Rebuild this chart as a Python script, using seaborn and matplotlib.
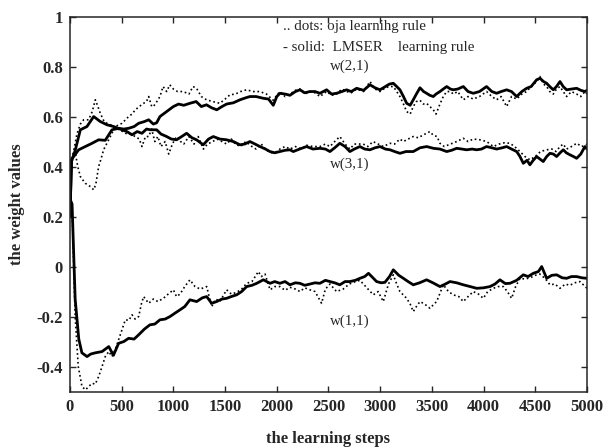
import numpy as np
import pandas as pd
import matplotlib
matplotlib.use("Agg")
import matplotlib.pyplot as plt
import seaborn as sns

# ---------------- data ----------------
w11_lmser_steps = [0, 20, 50, 85, 115, 165, 200, 245, 310, 375, 420, 470, 520, 567, 620, 664, 720, 773, 820, 870, 920, 967, 1020, 1064, 1110, 1160, 1225, 1280, 1322, 1370, 1418, 1470, 1515, 1560, 1612, 1660, 1709, 1760, 1806, 1870, 1935, 1980, 2030, 2080, 2127, 2180, 2224, 2270, 2320, 2370, 2417, 2470, 2514, 2560, 2610, 2660, 2707, 2760, 2804, 2850, 2887, 2930, 2965, 3010, 3046, 3090, 3127, 3180, 3224, 3270, 3320, 3380, 3449, 3510, 3578, 3630, 3675, 3740, 3804, 3870, 3933, 4000, 4062, 4110, 4158, 4210, 4255, 4320, 4384, 4430, 4481, 4530, 4562, 4610, 4660, 4707, 4760, 4803, 4850, 4900, 4950, 5000]
w11_lmser_vals = [0.27, 0.25, -0.13, -0.29, -0.345, -0.36, -0.35, -0.345, -0.34, -0.32, -0.355, -0.307, -0.30, -0.287, -0.29, -0.273, -0.25, -0.233, -0.23, -0.213, -0.21, -0.20, -0.185, -0.173, -0.16, -0.133, -0.14, -0.125, -0.12, -0.147, -0.14, -0.13, -0.127, -0.12, -0.113, -0.10, -0.08, -0.075, -0.067, -0.053, -0.067, -0.06, -0.067, -0.06, -0.073, -0.065, -0.067, -0.075, -0.07, -0.065, -0.067, -0.055, -0.06, -0.065, -0.073, -0.06, -0.06, -0.055, -0.047, -0.04, -0.027, -0.045, -0.06, -0.065, -0.063, -0.04, -0.013, -0.035, -0.047, -0.06, -0.073, -0.065, -0.053, -0.065, -0.08, -0.07, -0.06, -0.065, -0.073, -0.08, -0.087, -0.085, -0.08, -0.07, -0.053, -0.068, -0.067, -0.055, -0.033, -0.04, -0.027, -0.02, 0.0, -0.047, -0.035, -0.033, -0.045, -0.047, -0.04, -0.04, -0.045, -0.047]

w11_oja_steps = [0, 20, 50, 80, 116, 150, 212, 245, 277, 310, 341, 375, 406, 440, 470, 505, 535, 570, 600, 630, 664, 690, 712, 761, 806, 850, 903, 950, 1000, 1030, 1064, 1110, 1160, 1209, 1260, 1322, 1370, 1410, 1450, 1515, 1560, 1612, 1660, 1709, 1760, 1822, 1850, 1886, 1935, 1980, 2030, 2080, 2127, 2180, 2224, 2270, 2320, 2370, 2433, 2470, 2514, 2578, 2642, 2700, 2760, 2804, 2860, 2933, 2980, 3030, 3080, 3127, 3160, 3191, 3256, 3290, 3320, 3350, 3385, 3430, 3482, 3520, 3546, 3611, 3660, 3707, 3760, 3804, 3850, 3900, 3950, 3997, 4040, 4094, 4140, 4191, 4230, 4271, 4310, 4352, 4400, 4449, 4500, 4545, 4600, 4642, 4690, 4739, 4790, 4835, 4880, 4932, 4970, 5000]
w11_oja_vals = [0.27, 0.25, -0.2, -0.4, -0.48, -0.493, -0.467, -0.47, -0.44, -0.40, -0.36, -0.34, -0.36, -0.33, -0.293, -0.25, -0.213, -0.215, -0.193, -0.21, -0.2, -0.15, -0.12, -0.147, -0.13, -0.14, -0.127, -0.11, -0.093, -0.12, -0.11, -0.08, -0.053, -0.08, -0.09, -0.08, -0.16, -0.13, -0.14, -0.093, -0.11, -0.103, -0.09, -0.067, -0.06, -0.02, -0.04, -0.03, -0.093, -0.08, -0.08, -0.095, -0.083, -0.09, -0.10, -0.085, -0.093, -0.1, -0.147, -0.09, -0.07, -0.1, -0.09, -0.07, -0.06, -0.055, -0.08, -0.113, -0.1, -0.14, -0.07, -0.033, -0.07, -0.1, -0.127, -0.15, -0.18, -0.16, -0.14, -0.15, -0.167, -0.15, -0.14, -0.073, -0.1, -0.113, -0.12, -0.14, -0.12, -0.1, -0.11, -0.127, -0.1, -0.087, -0.08, -0.08, -0.1, -0.127, -0.08, -0.047, -0.05, -0.045, -0.035, -0.03, -0.05, -0.073, -0.07, -0.087, -0.07, -0.075, -0.065, -0.06, -0.075, -0.087]

w21_lmser_steps = [0, 15, 35, 84, 148, 213, 277, 341, 406, 470, 520, 567, 620, 664, 720, 761, 806, 838, 870, 935, 1000, 1050, 1100, 1160, 1220, 1270, 1320, 1370, 1420, 1470, 1515, 1580, 1644, 1700, 1740, 1800, 1870, 1920, 1966, 2000, 2030, 2080, 2127, 2180, 2224, 2270, 2320, 2370, 2417, 2482, 2530, 2578, 2630, 2675, 2720, 2772, 2840, 2901, 2950, 2998, 3050, 3090, 3127, 3160, 3191, 3225, 3256, 3290, 3320, 3350, 3385, 3420, 3449, 3480, 3514, 3540, 3578, 3610, 3643, 3680, 3707, 3750, 3804, 3850, 3900, 3960, 4029, 4080, 4126, 4170, 4223, 4270, 4320, 4370, 4416, 4460, 4513, 4545, 4580, 4610, 4640, 4674, 4705, 4739, 4770, 4803, 4850, 4900, 4940, 4980, 5000]
w21_lmser_vals = [0.2, 0.43, 0.44, 0.467, 0.48, 0.493, 0.507, 0.505, 0.547, 0.553, 0.55, 0.553, 0.56, 0.573, 0.58, 0.587, 0.57, 0.575, 0.60, 0.62, 0.64, 0.65, 0.645, 0.653, 0.66, 0.64, 0.647, 0.635, 0.627, 0.64, 0.65, 0.655, 0.667, 0.675, 0.68, 0.68, 0.673, 0.67, 0.645, 0.68, 0.693, 0.69, 0.685, 0.70, 0.707, 0.695, 0.70, 0.70, 0.693, 0.707, 0.69, 0.693, 0.70, 0.707, 0.70, 0.713, 0.705, 0.727, 0.715, 0.707, 0.72, 0.73, 0.733, 0.72, 0.707, 0.68, 0.653, 0.645, 0.667, 0.69, 0.715, 0.70, 0.693, 0.685, 0.68, 0.69, 0.70, 0.71, 0.72, 0.71, 0.707, 0.71, 0.72, 0.70, 0.693, 0.70, 0.72, 0.70, 0.693, 0.70, 0.707, 0.70, 0.68, 0.70, 0.713, 0.72, 0.747, 0.753, 0.74, 0.733, 0.72, 0.707, 0.72, 0.74, 0.72, 0.707, 0.71, 0.713, 0.705, 0.70, 0.705]

w21_oja_steps = [0, 15, 30, 52, 75, 100, 148, 197, 229, 250, 277, 300, 325, 374, 438, 503, 567, 600, 632, 670, 712, 740, 761, 790, 806, 840, 870, 900, 935, 965, 1000, 1040, 1095, 1150, 1190, 1224, 1270, 1320, 1380, 1450, 1500, 1547, 1600, 1650, 1708, 1770, 1837, 1900, 1966, 2000, 2030, 2080, 2127, 2180, 2224, 2270, 2320, 2370, 2417, 2482, 2530, 2578, 2630, 2675, 2720, 2772, 2840, 2901, 2950, 2998, 3050, 3090, 3127, 3160, 3191, 3225, 3256, 3290, 3320, 3350, 3385, 3417, 3449, 3480, 3514, 3540, 3578, 3610, 3643, 3680, 3707, 3750, 3804, 3850, 3900, 3960, 4029, 4080, 4126, 4170, 4223, 4270, 4320, 4370, 4416, 4460, 4513, 4545, 4580, 4610, 4640, 4674, 4705, 4739, 4770, 4803, 4850, 4900, 4940, 4980, 5000]
w21_oja_vals = [0.2, 0.42, 0.45, 0.453, 0.40, 0.36, 0.333, 0.32, 0.307, 0.33, 0.40, 0.43, 0.467, 0.507, 0.56, 0.573, 0.60, 0.61, 0.627, 0.64, 0.653, 0.66, 0.68, 0.64, 0.64, 0.66, 0.68, 0.72, 0.70, 0.727, 0.71, 0.70, 0.70, 0.69, 0.72, 0.713, 0.68, 0.667, 0.66, 0.653, 0.67, 0.687, 0.69, 0.70, 0.707, 0.70, 0.70, 0.69, 0.665, 0.685, 0.70, 0.68, 0.69, 0.705, 0.71, 0.69, 0.70, 0.695, 0.68, 0.70, 0.685, 0.69, 0.71, 0.70, 0.695, 0.71, 0.70, 0.74, 0.71, 0.70, 0.715, 0.72, 0.72, 0.70, 0.68, 0.65, 0.62, 0.61, 0.64, 0.66, 0.665, 0.65, 0.653, 0.64, 0.627, 0.61, 0.65, 0.68, 0.70, 0.70, 0.69, 0.70, 0.667, 0.68, 0.67, 0.68, 0.70, 0.68, 0.667, 0.68, 0.64, 0.68, 0.67, 0.69, 0.70, 0.72, 0.74, 0.76, 0.73, 0.72, 0.70, 0.69, 0.71, 0.72, 0.70, 0.68, 0.70, 0.69, 0.68, 0.70, 0.69]

w31_lmser_steps = [0, 15, 52, 100, 164, 229, 293, 358, 422, 503, 550, 600, 650, 696, 740, 777, 838, 880, 935, 980, 1031, 1080, 1128, 1180, 1224, 1289, 1340, 1386, 1450, 1515, 1580, 1644, 1690, 1740, 1790, 1837, 1890, 1934, 1980, 2030, 2080, 2127, 2160, 2220, 2288, 2350, 2417, 2470, 2514, 2560, 2610, 2660, 2707, 2750, 2804, 2850, 2901, 2950, 2998, 3050, 3095, 3140, 3191, 3250, 3320, 3385, 3450, 3514, 3578, 3643, 3690, 3740, 3790, 3836, 3890, 3933, 3980, 4029, 4080, 4126, 4180, 4223, 4270, 4320, 4352, 4384, 4420, 4448, 4480, 4513, 4545, 4577, 4610, 4642, 4675, 4706, 4740, 4771, 4800, 4835, 4870, 4900, 4940, 4980, 5000]
w31_lmser_vals = [0.22, 0.42, 0.467, 0.547, 0.56, 0.60, 0.58, 0.567, 0.56, 0.547, 0.54, 0.527, 0.54, 0.533, 0.55, 0.547, 0.547, 0.53, 0.52, 0.51, 0.507, 0.52, 0.533, 0.515, 0.507, 0.487, 0.51, 0.52, 0.51, 0.507, 0.50, 0.487, 0.49, 0.50, 0.49, 0.48, 0.47, 0.46, 0.455, 0.46, 0.465, 0.467, 0.46, 0.47, 0.48, 0.47, 0.473, 0.47, 0.46, 0.475, 0.493, 0.48, 0.46, 0.47, 0.48, 0.47, 0.467, 0.475, 0.48, 0.47, 0.467, 0.46, 0.453, 0.46, 0.46, 0.475, 0.48, 0.473, 0.47, 0.46, 0.465, 0.473, 0.47, 0.467, 0.47, 0.467, 0.47, 0.48, 0.475, 0.47, 0.475, 0.48, 0.47, 0.46, 0.44, 0.413, 0.425, 0.407, 0.425, 0.44, 0.43, 0.42, 0.44, 0.453, 0.45, 0.44, 0.455, 0.467, 0.455, 0.447, 0.44, 0.433, 0.45, 0.48, 0.47]

w31_oja_steps = [0, 15, 30, 67, 100, 132, 180, 215, 245, 270, 293, 330, 358, 400, 438, 490, 535, 580, 632, 670, 696, 730, 761, 790, 820, 850, 880, 920, 955, 990, 1030, 1070, 1100, 1150, 1200, 1240, 1290, 1330, 1380, 1420, 1470, 1515, 1560, 1600, 1650, 1700, 1760, 1800, 1850, 1900, 1950, 2000, 2030, 2080, 2127, 2180, 2240, 2288, 2350, 2417, 2470, 2514, 2560, 2610, 2660, 2707, 2750, 2836, 2880, 2930, 2980, 3030, 3095, 3140, 3190, 3224, 3270, 3320, 3370, 3417, 3450, 3480, 3514, 3550, 3578, 3620, 3680, 3740, 3804, 3850, 3900, 3965, 4030, 4094, 4150, 4200, 4255, 4300, 4352, 4400, 4448, 4500, 4550, 4610, 4660, 4700, 4739, 4770, 4803, 4850, 4900, 4950, 4990, 5000]
w31_oja_vals = [0.22, 0.42, 0.45, 0.53, 0.57, 0.587, 0.587, 0.62, 0.667, 0.64, 0.613, 0.58, 0.573, 0.565, 0.553, 0.545, 0.533, 0.53, 0.52, 0.51, 0.48, 0.52, 0.52, 0.55, 0.50, 0.52, 0.48, 0.50, 0.45, 0.49, 0.52, 0.50, 0.49, 0.52, 0.49, 0.52, 0.47, 0.49, 0.50, 0.51, 0.50, 0.49, 0.51, 0.49, 0.48, 0.50, 0.48, 0.47, 0.49, 0.465, 0.455, 0.46, 0.47, 0.48, 0.47, 0.48, 0.47, 0.485, 0.48, 0.48, 0.49, 0.48, 0.50, 0.52, 0.49, 0.47, 0.49, 0.49, 0.48, 0.50, 0.49, 0.48, 0.493, 0.49, 0.51, 0.50, 0.51, 0.52, 0.515, 0.527, 0.533, 0.54, 0.525, 0.52, 0.493, 0.48, 0.49, 0.50, 0.513, 0.50, 0.51, 0.507, 0.50, 0.48, 0.49, 0.495, 0.493, 0.48, 0.46, 0.44, 0.427, 0.44, 0.46, 0.467, 0.47, 0.46, 0.48, 0.49, 0.47, 0.48, 0.493, 0.48, 0.487, 0.49]

x_ticks = [0, 500, 1000, 1500, 2000, 2500, 3000, 3500, 4000, 4500, 5000]
y_ticks = [-0.4, -0.2, 0, 0.2, 0.4, 0.6, 0.8, 1]
y_tick_labels = ["-0.4", "-0.2", "0", "0.2", "0.4", "0.6", "0.8", "1"]

# ---------------- plotting ----------------
sns.set_style("ticks")
plt.rcParams["font.family"] = ["Liberation Serif", "DejaVu Serif"]

fig = plt.figure(figsize=(6.14, 4.47), dpi=100)
ax = fig.add_axes([0.114, 0.124, 0.842, 0.839])

series = [
    (w11_lmser_steps, w11_lmser_vals, "-", 2.0),
    (w21_lmser_steps, w21_lmser_vals, "-", 2.0),
    (w31_lmser_steps, w31_lmser_vals, "-", 2.0),
    (w11_oja_steps, w11_oja_vals, ":", 1.2),
    (w21_oja_steps, w21_oja_vals, ":", 1.2),
    (w31_oja_steps, w31_oja_vals, ":", 1.2),
]
for xs, ys, ls, lw in series:
    df = pd.DataFrame({"step": xs, "w": ys})
    sns.lineplot(data=df, x="step", y="w", ax=ax, color="black",
                 linestyle=ls, linewidth=lw, estimator=None, sort=False)

ax.set_xlim(0, 5000)
ax.set_ylim(-0.5, 1.0)
ax.set_xticks(x_ticks)
ax.set_xticklabels([str(t) for t in x_ticks])
ax.set_yticks(y_ticks)
ax.set_yticklabels(y_tick_labels)
ax.tick_params(direction="in", length=4, width=1, top=True, right=True,
               labelsize=12, pad=5)
for lab in ax.get_xticklabels() + ax.get_yticklabels():
    lab.set_fontweight("bold")
for sp in ax.spines.values():
    sp.set_visible(True)
    sp.set_linewidth(1.1)

ax.set_xlabel("the learning steps", fontsize=12, fontweight="bold", labelpad=12)
ax.set_ylabel("the weight values", fontsize=12, fontweight="bold", labelpad=8)

ax.text(2060, 0.96, ".. dots: oja learnihg rule", fontsize=10.8, va="center")
ax.text(2060, 0.877, "- solid:  LMSER    learning rule", fontsize=10.8, va="center")
ax.text(2515, 0.80, "w(2,1)", fontsize=10.8, va="center")
ax.text(2515, 0.41, "w(3,1)", fontsize=10.8, va="center")
ax.text(2515, -0.22, "w(1,1)", fontsize=10.8, va="center")

fig.savefig("out.png", dpi=100)
